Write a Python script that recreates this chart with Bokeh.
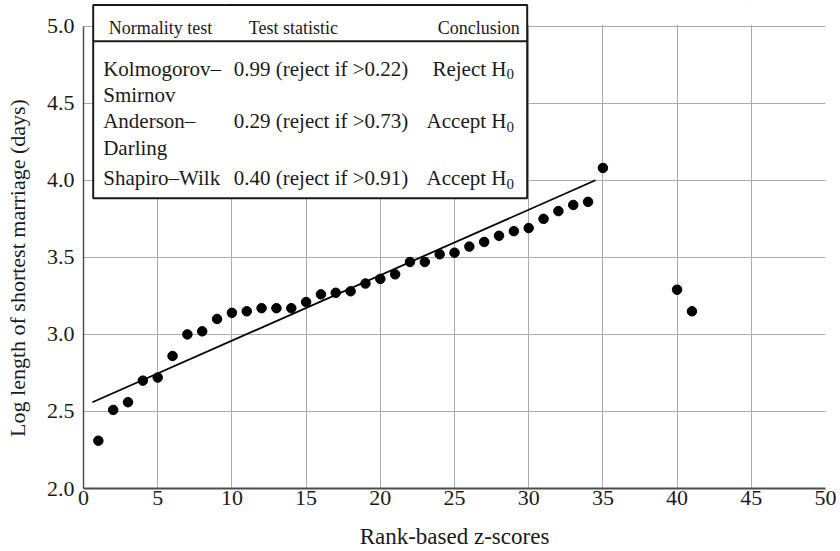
from bokeh.plotting import figure
from bokeh.models import Range1d, FixedTicker, PrintfTickFormatter
from bokeh.core.properties import value
from bokeh.embed import file_html
from bokeh.resources import INLINE

# ---------------- data ----------------
rank = [1, 2, 3, 4, 5, 6, 7, 8, 9, 10, 11, 12, 13, 14, 15, 16, 17, 18, 19, 20,
        21, 22, 23, 24, 25, 26, 27, 28, 29, 30, 31, 32, 33, 34, 35, 40, 41]
log_len = [2.31, 2.51, 2.56, 2.70, 2.72, 2.86, 3.00, 3.02, 3.10, 3.14,
           3.15, 3.17, 3.17, 3.17, 3.21, 3.26, 3.27, 3.28, 3.33, 3.36,
           3.39, 3.47, 3.47, 3.52, 3.53, 3.57, 3.60, 3.64, 3.67, 3.69,
           3.75, 3.80, 3.84, 3.86, 4.08, 3.29, 3.15]
fit_x = [0.6, 34.5]
fit_y = [2.56, 4.00]
x_ticks = [0, 5, 10, 15, 20, 25, 30, 35, 40, 45, 50]
y_ticks = [2.0, 2.5, 3.0, 3.5, 4.0, 4.5, 5.0]

table_header = ["Normality test", "Test statistic", "Conclusion"]
test_names = [["Kolmogorov\u2013", "Smirnov"], ["Anderson\u2013", "Darling"], ["Shapiro\u2013Wilk"]]
test_stats = ["0.99 (reject if >0.22)", "0.29 (reject if >0.73)", "0.40 (reject if >0.91)"]
conclusions = ["Reject", "Accept", "Accept"]

x_label = "Rank-based z-scores"
y_label = "Log length of shortest marriage (days)"

# ---------------- layout ----------------
W, H = 840, 551
FL, FR, FT, FB = 83, 825, 3, 488          # frame edges in pixels
XMIN, XMAX, YMIN, YTOP = 0, 50, 2.0, 5.0
PXU = (FR - FL) / (XMAX - XMIN)
PYU = 154.1
YMAX = YMIN + (FB - FT) / PYU

def dx(px):
    return XMIN + (px - FL) / PXU

def dy(py):
    return YMIN + (FB - py) / PYU

FONT = "Liberation Serif"
INK = "#1a1a1a"

p = figure(width=W, height=H, x_range=Range1d(XMIN, XMAX), y_range=Range1d(YMIN, YMAX),
           output_backend="svg", toolbar_location=None,
           min_border_left=FL, min_border_right=W - FR, min_border_top=FT, min_border_bottom=H - FB)
p.outline_line_color = None
p.background_fill_color = "white"
p.border_fill_color = "white"

for ax in (p.xaxis, p.yaxis):
    ax.major_label_text_font = FONT
    ax.major_label_text_font_size = "22px"
    ax.major_label_text_color = INK
    ax.major_tick_line_color = None
    ax.minor_tick_line_color = None
    ax.major_tick_out = 0
    ax.major_tick_in = 0
    ax.minor_tick_out = 0
    ax.minor_tick_in = 0
    ax.axis_line_color = "#4d4d4d"
    ax.axis_label_text_font = FONT
    ax.axis_label_text_font_style = "normal"
    ax.axis_label_text_color = INK
p.xaxis.major_label_standoff = 2
p.yaxis.major_label_standoff = 9
p.xaxis.axis_label = x_label
p.xaxis.axis_label_text_font_size = "23px"
p.xaxis.axis_label_standoff = 16
# trailing no-break spaces shift the centred, rotated label downward like the reference
p.yaxis.axis_label = y_label + "\u00a0" * 8
p.yaxis.axis_label_text_font_size = "22px"
p.yaxis.axis_label_standoff = 14
p.xaxis.axis_line_width = 2
p.yaxis.axis_line_width = 1.5
p.xaxis.ticker = FixedTicker(ticks=x_ticks)
p.yaxis.ticker = FixedTicker(ticks=y_ticks)
p.yaxis.formatter = PrintfTickFormatter(format="%.1f")
p.yaxis.bounds = (YMIN, YTOP)

p.grid.grid_line_color = "#ababab"
p.grid.grid_line_width = 1

# data
p.line(fit_x, fit_y, line_color="black", line_width=1.8)
p.scatter(rank, log_len, size=9.5, fill_color="black", line_color="black")

# hide grid above the top tick
p.quad(left=XMIN, right=XMAX, bottom=YTOP + 1.2 / PYU, top=YMAX, fill_color="white", line_color=None)

# table box
BL, BR, BT, BB = 92.7, 526.7, 4.5, 197.7
p.quad(left=dx(BL), right=dx(BR), top=dy(BT), bottom=dy(BB),
       fill_color="white", line_color=INK, line_width=2)
p.segment(x0=dx(BL), y0=dy(40.7), x1=dx(BR), y1=dy(40.7), line_color=INK, line_width=2)

# header
p.text(x=[dx(108.3), dx(248.3)], y=[dy(27.3)] * 2, text=table_header[:2],
       text_font=value(FONT), text_font_size="18px", text_color=INK,
       text_align="left", text_baseline="alphabetic")
p.text(x=[dx(519.3)], y=[dy(27.3)], text=[table_header[2]],
       text_font=value(FONT), text_font_size="18px", text_color=INK,
       text_align="right", text_baseline="alphabetic")

row_base = [68.3, 120.5, 177.5]
LINE_GAP = 26.5
nx, ny, nt = [], [], []
for r, lines in enumerate(test_names):
    for k, t in enumerate(lines):
        nx.append(dx(102.7)); ny.append(dy(row_base[r] + k * LINE_GAP)); nt.append(t)
p.text(x=nx, y=ny, text=nt, text_font=value(FONT), text_font_size="21px",
       text_color=INK, text_align="left", text_baseline="alphabetic")
p.text(x=[dx(233.3)] * 3, y=[dy(b) for b in row_base], text=test_stats,
       text_font=value(FONT), text_font_size="21px", text_color=INK,
       text_align="left", text_baseline="alphabetic")
p.text(x=[dx(506)] * 3, y=[dy(b) for b in row_base], text=[c + " H" for c in conclusions],
       text_font=value(FONT), text_font_size="21px", text_color=INK,
       text_align="right", text_baseline="alphabetic")
p.text(x=[dx(506)] * 3, y=[dy(b + 5.5) for b in row_base], text=["0"] * 3,
       text_font=value(FONT), text_font_size="15px", text_color=INK,
       text_align="left", text_baseline="alphabetic")

open("out.html", "w").write(file_html(p, INLINE))
